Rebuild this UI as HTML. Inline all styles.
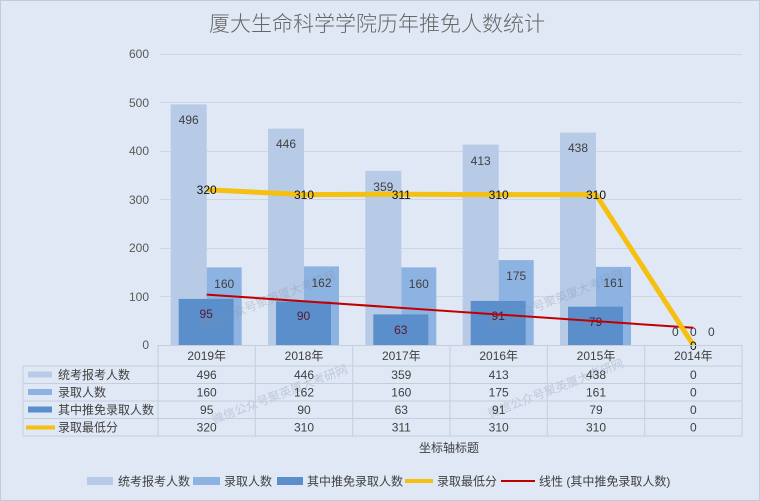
<!DOCTYPE html>
<html><head><meta charset="utf-8"><style>
html,body{margin:0;padding:0;background:#dfe8f4;}
svg{display:block;}
text{font-family:"Liberation Sans","Noto Sans CJK SC",sans-serif;}
</style></head><body>
<svg width="760" height="501" viewBox="0 0 760 501" xmlns="http://www.w3.org/2000/svg">
<rect x="0.5" y="0.5" width="759" height="500" fill="#dfe8f4" stroke="#c2ccd9"/>
<text x="377" y="31" font-size="21" fill="#666" text-anchor="middle" font-weight="300">厦大生命科学学院历年推免人数统计</text>
<!-- gridlines -->
<g stroke="#cdd6e2" stroke-width="1">
<line x1="160" y1="54.5" x2="742" y2="54.5"/>
<line x1="160" y1="102.5" x2="742" y2="102.5"/>
<line x1="160" y1="151.5" x2="742" y2="151.5"/>
<line x1="160" y1="199.5" x2="742" y2="199.5"/>
<line x1="160" y1="248.5" x2="742" y2="248.5"/>
<line x1="160" y1="296.5" x2="742" y2="296.5"/>
</g>
<g font-size="12" fill="#595959" text-anchor="end">
<text x="149" y="58">600</text><text x="149" y="107">500</text><text x="149" y="155">400</text>
<text x="149" y="204">300</text><text x="149" y="252">200</text><text x="149" y="301">100</text><text x="149" y="349">0</text>
</g>
<!-- light bars -->
<g fill="#b7cbe7">
<rect x="170.7" y="104.4" width="36" height="240.6"/>
<rect x="268" y="128.7" width="36" height="216.3"/>
<rect x="365.3" y="170.9" width="36" height="174.1"/>
<rect x="462.7" y="144.7" width="36" height="200.3"/>
<rect x="560" y="132.6" width="36" height="212.4"/>
</g>
<!-- medium bars -->
<g fill="#8db3e2">
<rect x="206.7" y="267.4" width="35" height="77.6"/>
<rect x="304" y="266.4" width="35" height="78.6"/>
<rect x="401.3" y="267.4" width="35" height="77.6"/>
<rect x="498.7" y="260.1" width="35" height="84.9"/>
<rect x="596" y="266.9" width="35" height="78.1"/>
</g>
<!-- dark bars -->
<g fill="#5b8fcb">
<rect x="178.7" y="298.9" width="55" height="46.1"/>
<rect x="276" y="301.4" width="55" height="43.6"/>
<rect x="373.3" y="314.4" width="55" height="30.6"/>
<rect x="470.7" y="300.9" width="55" height="44.1"/>
<rect x="568" y="306.7" width="55" height="38.3"/>
</g>
<!-- watermarks -->
<g font-size="12" fill="#7f8fa8" opacity="0.35">
<text transform="translate(202,330) rotate(-21)">微信公众号聚英厦大考研网</text>
<text transform="translate(214,424) rotate(-21)">微信公众号聚英厦大考研网</text>
<text transform="translate(490,329) rotate(-21)">微信公众号聚英厦大考研网</text>
<text transform="translate(490,418) rotate(-21)">微信公众号聚英厦大考研网</text>
</g>
<!-- bar labels -->
<g font-size="12" fill="#404040" text-anchor="middle">
<text x="188.7" y="124">496</text><text x="286" y="148">446</text><text x="383.3" y="191">359</text>
<text x="480.7" y="165">413</text><text x="578" y="152">438</text>
<text x="224.2" y="288">160</text><text x="321.5" y="287">162</text><text x="418.8" y="288">160</text>
<text x="516.2" y="280">175</text><text x="613.5" y="287">161</text>
<text x="675.3" y="336">0</text><text x="711.3" y="336">0</text><text x="693.3" y="336">0</text>
</g>
<g font-size="12" fill="#5a1530" text-anchor="middle">
<text x="206.2" y="318">95</text><text x="303.5" y="320">90</text><text x="400.8" y="334">63</text>
<text x="498.2" y="320">91</text><text x="595.5" y="326">79</text>
</g>
<!-- trend line -->
<line x1="206.7" y1="294.6" x2="693.3" y2="327.8" stroke="#c00000" stroke-width="2"/>
<!-- yellow line -->
<polyline points="206.7,189.8 304,194.6 401.3,194.2 498.7,194.6 596,194.6 693.3,345" fill="none" stroke="#f5c010" stroke-width="5" stroke-linejoin="round"/>
<g font-size="12" fill="#111" text-anchor="middle">
<text x="206.7" y="194">320</text><text x="304" y="199">310</text><text x="401.3" y="199">311</text>
<text x="498.7" y="199">310</text><text x="596" y="199">310</text><text x="693.3" y="350">0</text>
</g>
<!-- table -->
<g stroke="#c5cfdb" stroke-width="1">
<line x1="158" y1="345.5" x2="742" y2="345.5"/>
<line x1="23" y1="366" x2="742" y2="366"/>
<line x1="23" y1="383.5" x2="742" y2="383.5"/>
<line x1="23" y1="401" x2="742" y2="401"/>
<line x1="23" y1="418.5" x2="742" y2="418.5"/>
<line x1="23" y1="436" x2="742" y2="436"/>
<line x1="23" y1="366" x2="23" y2="436"/>
<line x1="158" y1="345" x2="158" y2="436"/>
<line x1="255.3" y1="345" x2="255.3" y2="436"/>
<line x1="352.7" y1="345" x2="352.7" y2="436"/>
<line x1="450" y1="345" x2="450" y2="436"/>
<line x1="547.3" y1="345" x2="547.3" y2="436"/>
<line x1="644.7" y1="345" x2="644.7" y2="436"/>
<line x1="742" y1="345" x2="742" y2="436"/>
</g>
<g font-size="12" fill="#404040" text-anchor="middle">
<text x="206.7" y="360">2019年</text><text x="304" y="360">2018年</text><text x="401.3" y="360">2017年</text>
<text x="498.7" y="360">2016年</text><text x="596" y="360">2015年</text><text x="693.3" y="360">2014年</text>
<text x="206.7" y="379">496</text><text x="304" y="379">446</text><text x="401.3" y="379">359</text><text x="498.7" y="379">413</text><text x="596" y="379">438</text><text x="693.3" y="379">0</text>
<text x="206.7" y="396.5">160</text><text x="304" y="396.5">162</text><text x="401.3" y="396.5">160</text><text x="498.7" y="396.5">175</text><text x="596" y="396.5">161</text><text x="693.3" y="396.5">0</text>
<text x="206.7" y="414">95</text><text x="304" y="414">90</text><text x="401.3" y="414">63</text><text x="498.7" y="414">91</text><text x="596" y="414">79</text><text x="693.3" y="414">0</text>
<text x="206.7" y="431.5">320</text><text x="304" y="431.5">310</text><text x="401.3" y="431.5">311</text><text x="498.7" y="431.5">310</text><text x="596" y="431.5">310</text><text x="693.3" y="431.5">0</text>
</g>
<rect x="28" y="371.5" width="24" height="6" fill="#b7cbe7"/>
<rect x="28" y="389" width="24" height="6" fill="#8db3e2"/>
<rect x="28" y="406.5" width="24" height="6" fill="#5b8fcb"/>
<line x1="26" y1="427.5" x2="55" y2="427.5" stroke="#f5c010" stroke-width="4"/>
<g font-size="12" fill="#404040">
<text x="58" y="379">统考报考人数</text>
<text x="58" y="396.5">录取人数</text>
<text x="58" y="414">其中推免录取人数</text>
<text x="58" y="431.5">录取最低分</text>
</g>
<text x="449" y="452" font-size="12" fill="#404040" text-anchor="middle">坐标轴标题</text>
<!-- bottom legend -->
<rect x="87" y="477" width="26" height="8" fill="#b7cbe7"/>
<rect x="193" y="477" width="27" height="8" fill="#8db3e2"/>
<rect x="277" y="477" width="26" height="8" fill="#5b8fcb"/>
<line x1="405" y1="481" x2="433" y2="481" stroke="#f5c010" stroke-width="4"/>
<line x1="501" y1="481" x2="535" y2="481" stroke="#c00000" stroke-width="2"/>
<g font-size="12" fill="#404040">
<text x="118" y="485.5">统考报考人数</text>
<text x="224" y="485.5">录取人数</text>
<text x="307" y="485.5">其中推免录取人数</text>
<text x="437" y="485.5">录取最低分</text>
<text x="539" y="485.5">线性 (其中推免录取人数)</text>
</g>
</svg>
</body></html>
